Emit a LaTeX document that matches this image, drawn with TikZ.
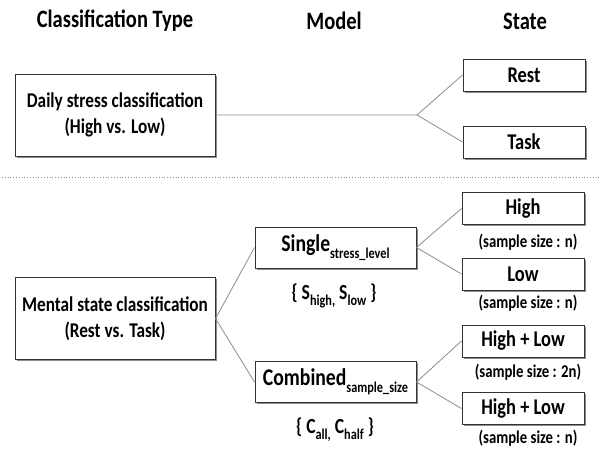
\documentclass[tikz,border=0pt]{standalone}
\usepackage{fontspec}
\setmainfont{Carlito}[FakeStretch=0.82]
\usetikzlibrary{shadows}
\newcommand\mysub[1]{\raisebox{-0.28em}{\fontsize{15}{15}\selectfont #1}}
\begin{document}
\begin{tikzpicture}[x=1pt,y=-1pt,
  box/.style={draw=black!80, line width=1pt, fill=white,
    drop shadow={shadow xshift=1.6pt, shadow yshift=-1.6pt, fill=black, opacity=0.45},
    inner sep=0pt, align=center},
  bigbox/.style={box, minimum width=200pt, minimum height=82pt, font=\bfseries\fontsize{21}{26}\selectfont},
  modelbox/.style={box, minimum width=161pt, minimum height=41pt, font=\bfseries\fontsize{24}{28}\selectfont},
  statebox/.style={box, minimum width=122pt, minimum height=32pt, font=\bfseries\fontsize{22.5}{26}\selectfont},
  title/.style={font=\bfseries\fontsize{25}{30}\selectfont, inner sep=0pt},
  note/.style={font=\bfseries\fontsize{18}{21}\selectfont, inner sep=0pt},
  setlab/.style={font=\bfseries\fontsize{21.5}{25}\selectfont, inner sep=0pt},
  link/.style={draw=black!45, line width=0.8pt}]
\useasboundingbox (0,0) rectangle (601,448);
% titles
\node[title] (t1) at (115,21) {Classification Type};
\node[title] (t2) at (334,21) {Model};
\node[title] (t3) at (525,21) {State};
% top section
\node[bigbox] (daily) at (115,115) {Daily stress classification\\(High vs. Low)};
\node[statebox] (rest) at (524,75) {Rest};
\node[statebox] (task) at (524,142) {Task};
\coordinate (b1) at (417,115);
\draw[link] (daily.east) -- (b1) -- (rest.west);
\draw[link] (b1) -- (task.west);
% separator
\coordinate (s1) at (2,177);
\coordinate (s2) at (599,177);
\draw[black!45, line width=0.8pt, dotted] (s1) -- (s2);
% bottom section
\node[bigbox] (mental) at (115,318.5) {Mental state classification\\(Rest vs. Task)};
\node[modelbox] (single) at (335.5,247.5) {Single\mysub{stress\_level}};
\node[modelbox] (comb) at (335.5,382) {Combined\mysub{sample\_size}};
\node[setlab] (sset) at (334,296) {\{ S\mysub{high,} S\mysub{low} \}};
\node[setlab] (cset) at (335,430) {\{ C\mysub{all,} C\mysub{half} \}};
\node[statebox] (high) at (523,208.5) {High};
\node[statebox] (low) at (523,274) {Low};
\node[statebox] (hl1) at (523,341) {High + Low};
\node[statebox] (hl2) at (523,408.5) {High + Low};
\node[note] (n1) at (528,242) {(sample size : n)};
\node[note] (n2) at (528,303) {(sample size : n)};
\node[note] (n3) at (528,372) {(sample size : 2n)};
\node[note] (n4) at (528,438) {(sample size : n)};
\draw[link] (mental.east) -- (single.west);
\draw[link] (mental.east) -- (comb.west);
\draw[link] (single.east) -- (high.west);
\draw[link] (single.east) -- (low.west);
\draw[link] (comb.east) -- (hl1.west);
\draw[link] (comb.east) -- (hl2.west);
\end{tikzpicture}
\end{document}
